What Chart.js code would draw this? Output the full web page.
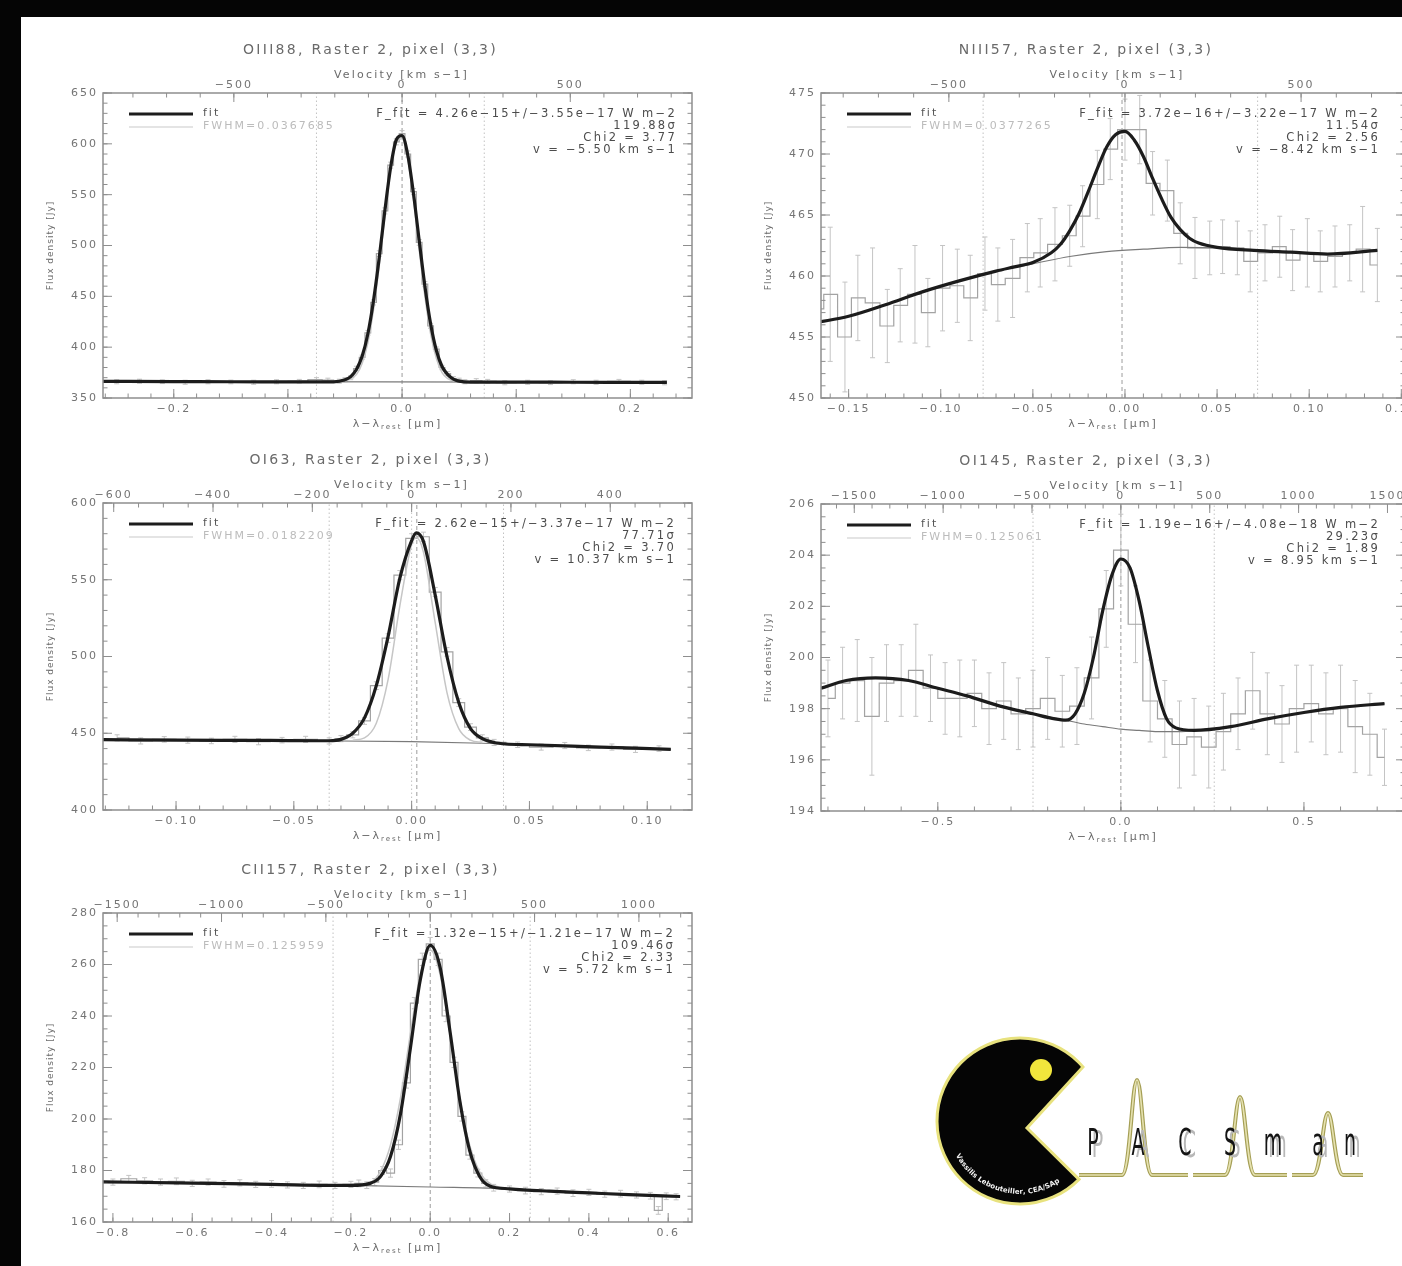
<!DOCTYPE html>
<html>
<head>
<meta charset="utf-8">
<title>PACSman line fits</title>
<script src="https://cdn.jsdelivr.net/npm/chart.js@4.4.1/dist/chart.umd.min.js"></script>
<style>
  html, body { margin: 0; width: 1402px; height: 1266px; overflow: hidden; background: #050505; }
  #sheet { position: absolute; left: 21px; top: 17px; right: 0; bottom: 0; background: #fff; }
  canvas { position: absolute; }
</style>
</head>
<body>
<div id="sheet"></div>
<canvas id="oiii88"></canvas>
<canvas id="niii57"></canvas>
<canvas id="oi63"></canvas>
<canvas id="oi145"></canvas>
<canvas id="cii157"></canvas>
<canvas id="logo" width="470" height="220" style="left:920px;top:1020px"></canvas>
<script>
const C_KMS = 299792.458;

// ---- OIII 88 ----
const oiii88Wave = [-0.25,-0.23,-0.21,-0.19,-0.17,-0.15,-0.13,-0.11,-0.09,-0.075,-0.065,-0.055,-0.05,-0.045,-0.04,-0.035,-0.03,-0.025,-0.02,-0.015,-0.01,-0.005,0,0.005,0.01,0.015,0.02,0.025,0.03,0.035,0.04,0.045,0.05,0.055,0.065,0.075,0.09,0.11,0.13,0.15,0.17,0.19,0.21,0.23];
const oiii88Flux = [366,366.5,366,365.5,366,365.8,365.5,366,366.5,368,367.5,366.5,368,370,379,390,414,444,492,534,579,602,610,590,553,503,462,421,398,380,374,369,367.5,366,367,366.5,365,365.5,365,366,365.5,366.5,365.5,365];
const oiii88Err = [2,2,1.8,2,2,1.8,2,2,1.8,2,2,2,2,2,2.2,2.2,2.5,2.5,2.8,3,3,3,3,3,3,2.8,2.5,2.5,2.2,2.2,2,2,2,2,2,1.8,2,2,1.8,2,2,1.8,2,2];
const oiii88FitWave = [-0.262,-0.2,-0.15,-0.1,-0.07,-0.06,-0.05,-0.045,-0.04,-0.035,-0.03,-0.025,-0.02,-0.015,-0.01,-0.005,0,0.005,0.01,0.015,0.02,0.025,0.03,0.035,0.04,0.045,0.05,0.06,0.1,0.15,0.2,0.232];
const oiii88Fit = [366.4,366.2,366,365.9,365.8,365.9,368,371,378,391,413,446,488,535,577,604,608,589,551,505,460,423,397,381,373,368.5,366.6,365.7,365.6,365.5,365.4,365.3];
const oiii88ContWave = [-0.262, 0.232];
const oiii88Cont = [366.4, 365.3];
const oiii88InstWave = [-0.05,-0.04,-0.035,-0.03,-0.025,-0.02,-0.015,-0.01,-0.005,0,0.005,0.01,0.015,0.02,0.025,0.03,0.035,0.04,0.05];
const oiii88Inst = [366.5,373,384,404,437,480,530,575,601,605,585,545,496,450,413,389,375,369,366];
const oiii88Dotted = [-0.075, 0.072];
const oiii88Dashed = [0];
const oiii88XTicks = [-0.2, -0.1, 0, 0.1, 0.2];
const oiii88YTicks = [350, 400, 450, 500, 550, 600, 650];
const oiii88VTicks = [-500, 0, 500];
const oiii88Stats = ['F_fit = 4.26e\u221215+/\u22123.55e\u221217 W m\u22122', '119.88\u03c3', 'Chi2 = 3.77', 'v = \u22125.50 km s\u22121'];

// ---- NIII 57 ----
const niii57Wave = [-0.167,-0.160,-0.152,-0.145,-0.137,-0.129,-0.122,-0.114,-0.107,-0.099,-0.091,-0.084,-0.076,-0.069,-0.061,-0.053,-0.046,-0.038,-0.030,-0.023,-0.015,-0.008,0.000,0.008,0.015,0.023,0.030,0.038,0.046,0.053,0.061,0.068,0.076,0.084,0.091,0.099,0.106,0.114,0.122,0.129,0.137];
const niii57Flux = [457.3,458.5,455.0,458.2,457.8,455.9,457.6,458.5,457.0,459.0,459.2,458.2,460.2,459.3,459.8,461.5,461.9,462.6,463.3,464.9,467.5,470.4,472.0,472.0,467.6,467.0,463.5,462.3,462.3,462.4,462.3,461.2,461.9,462.4,461.3,461.9,461.2,461.6,461.9,462.2,460.9];
const niii57Err = [4.5,5.5,4.5,3.5,4.5,3,3,4,2.8,3.5,3,3.5,3,3,3.2,2.8,2.8,3,2.5,2.5,2.8,2.5,2.5,2.8,2.6,2.5,2.5,2.5,2.2,2.2,2.2,2.5,2.3,2.5,2.5,2.8,2.5,2.5,2.3,3.5,3.0];
const niii57FitWave = [-0.167,-0.15,-0.13,-0.11,-0.09,-0.07,-0.06,-0.05,-0.04,-0.035,-0.03,-0.025,-0.02,-0.015,-0.01,-0.005,0,0.005,0.01,0.015,0.02,0.025,0.03,0.035,0.04,0.05,0.07,0.09,0.11,0.137];
const niii57Fit = [456.2,456.7,457.65,458.7,459.6,460.4,460.75,461.1,461.9,462.6,463.7,465.1,466.9,468.8,470.55,471.6,471.85,471.15,469.8,468.0,466.3,464.8,463.8,463.1,462.7,462.35,462.1,461.95,461.8,462.1];
const niii57ContWave = [-0.167,-0.15,-0.13,-0.11,-0.09,-0.07,-0.05,-0.03,-0.01,0.01,0.03,0.05,0.07,0.09,0.11,0.137];
const niii57Cont = [456.2,456.7,457.65,458.7,459.6,460.4,461.0,461.6,462.0,462.2,462.35,462.3,462.1,461.95,461.8,462.1];
const niii57Dotted = [-0.077, 0.072];
const niii57Dashed = [-0.0016];
const niii57XTicks = [-0.15, -0.10, -0.05, 0, 0.05, 0.10, 0.15];
const niii57YTicks = [450, 455, 460, 465, 470, 475];
const niii57VTicks = [-500, 0, 500];
const niii57Stats = ['F_fit = 3.72e\u221216+/\u22123.22e\u221217 W m\u22122', '11.54\u03c3', 'Chi2 = 2.56', 'v = \u22128.42 km s\u22121'];

// ---- OI 63 ----
const oi63Wave = [-0.125,-0.115,-0.105,-0.095,-0.085,-0.075,-0.065,-0.055,-0.045,-0.035,-0.03,-0.025,-0.02,-0.015,-0.01,-0.005,0,0.005,0.01,0.015,0.02,0.025,0.03,0.035,0.045,0.055,0.065,0.075,0.085,0.095,0.105];
const oi63Flux = [447,445,446,445.5,445,446,444.5,445.5,446,445,446.5,449,458,481,512,553,577,578,542,503,470,454,447,444,442.5,441,442,440.5,441,439.5,440];
const oi63Err = [2,2,1.8,2,1.8,2,2,1.8,2,2,2,2,2.2,2.5,2.8,3,3,3,3,2.8,2.5,2.2,2,2,1.8,2,2,1.8,2,2,1.8];
const oi63FitWave = [-0.131,-0.1,-0.06,-0.04,-0.035,-0.03,-0.025,-0.02,-0.015,-0.01,-0.005,0,0.002,0.005,0.01,0.015,0.02,0.025,0.03,0.035,0.04,0.05,0.08,0.11];
const oi63Fit = [445.8,445.5,445.3,445.1,445.1,446,450,460,481,513,551,575.5,580.5,575,540,500,470,453,446.5,444,443,442.5,441,439.5];
const oi63ContWave = [-0.131,-0.05,0,0.03,0.05,0.08,0.11];
const oi63Cont = [445.8,445.2,444.5,443.5,442.5,441,439.5];
const oi63InstWave = [-0.025,-0.02,-0.015,-0.01,-0.005,0,0.002,0.005,0.01,0.015,0.02,0.025,0.03];
const oi63Inst = [445.5,447,456.5,485,533,573,577.5,568,522,476.5,453,445.5,444];
const oi63Dotted = [-0.035, 0, 0.039];
const oi63Dashed = [0.0022];
const oi63XTicks = [-0.10, -0.05, 0, 0.05, 0.10];
const oi63YTicks = [400, 450, 500, 550, 600];
const oi63VTicks = [-600, -400, -200, 0, 200, 400];
const oi63Stats = ['F_fit = 2.62e\u221215+/\u22123.37e\u221217 W m\u22122', '77.71\u03c3', 'Chi2 = 3.70', 'v = 10.37 km s\u22121'];

// ---- OI 145 ----
const oi145Wave = [-0.80,-0.76,-0.72,-0.68,-0.64,-0.60,-0.56,-0.52,-0.48,-0.44,-0.40,-0.36,-0.32,-0.28,-0.24,-0.20,-0.16,-0.12,-0.08,-0.04,0.00,0.04,0.08,0.12,0.16,0.20,0.24,0.28,0.32,0.36,0.40,0.44,0.48,0.52,0.56,0.60,0.64,0.68,0.72];
const oi145Flux = [198.4,199.0,199.1,197.7,199.0,199.1,199.5,198.8,198.4,198.4,198.6,198.0,198.3,197.8,198.0,198.4,197.9,198.1,199.2,201.9,204.2,201.3,198.3,197.6,196.6,196.9,196.5,197.1,197.8,198.7,197.8,197.4,198.0,198.2,197.8,198.0,197.3,197.0,196.1];
const oi145Err = [1.5,1.4,1.6,2.3,1.5,1.4,1.8,1.3,1.4,1.5,1.3,1.4,1.5,1.4,1.5,1.6,1.4,1.5,1.6,1.5,1.4,1.5,1.6,1.5,1.7,1.5,1.6,1.5,1.4,1.5,1.6,1.5,1.7,1.5,1.6,1.7,1.8,1.6,1.1];
const oi145FitWave = [-0.819,-0.75,-0.67,-0.58,-0.5,-0.42,-0.33,-0.24,-0.18,-0.15,-0.125,-0.1,-0.075,-0.05,-0.025,0,0.025,0.05,0.075,0.1,0.125,0.15,0.2,0.3,0.4,0.5,0.6,0.72];
const oi145Fit = [198.8,199.1,199.2,199.1,198.8,198.5,198.1,197.8,197.6,197.55,197.8,198.6,200.0,201.8,203.2,203.85,203.5,202.2,200.4,198.7,197.6,197.25,197.15,197.3,197.6,197.85,198.05,198.2];
const oi145ContWave = [-0.819,-0.75,-0.67,-0.58,-0.5,-0.42,-0.33,-0.24,-0.15,-0.1,-0.05,0,0.05,0.1,0.15,0.2,0.3,0.4,0.5,0.6,0.72];
const oi145Cont = [198.8,199.1,199.2,199.1,198.8,198.5,198.1,197.8,197.55,197.4,197.3,197.2,197.15,197.1,197.1,197.15,197.3,197.6,197.85,198.05,198.2];
const oi145Dotted = [-0.24, 0.255];
const oi145Dashed = [0];
const oi145XTicks = [-0.5, 0, 0.5];
const oi145YTicks = [194, 196, 198, 200, 202, 204, 206];
const oi145VTicks = [-1500, -1000, -500, 0, 500, 1000, 1500];
const oi145Stats = ['F_fit = 1.19e\u221216+/\u22124.08e\u221218 W m\u22122', '29.23\u03c3', 'Chi2 = 1.89', 'v = 8.95 km s\u22121'];

// ---- CII 157 ----
const cii157Wave = [-0.8,-0.76,-0.72,-0.68,-0.64,-0.6,-0.56,-0.52,-0.48,-0.44,-0.4,-0.36,-0.32,-0.28,-0.24,-0.2,-0.18,-0.16,-0.14,-0.12,-0.1,-0.08,-0.06,-0.04,-0.02,0,0.02,0.04,0.06,0.08,0.1,0.12,0.14,0.16,0.2,0.24,0.28,0.32,0.36,0.4,0.44,0.48,0.52,0.555,0.575,0.595,0.62];
const cii157Flux = [175.5,176.8,176,175.5,175.8,175,175.5,174.8,175.2,174.6,174.8,174.4,174.2,174.6,174.2,174.6,175,174.3,175.5,180,179,190,214,245,262,268,262,240,222,201,186,179,175,173.3,172.8,172.2,171.8,172,171.2,171.5,170.8,171,170.5,170.2,164.5,170,169.8];
const cii157Err = [1.2,1.3,1.2,1.2,1.3,1.2,1.2,1.3,1.2,1.2,1.3,1.2,1.2,1.3,1.2,1.2,1.3,1.3,1.4,1.5,1.6,1.8,2,2.2,2.4,2.5,2.4,2.2,2,1.8,1.6,1.5,1.4,1.3,1.2,1.3,1.2,1.2,1.3,1.2,1.2,1.3,1.2,1.3,1.5,1.3,1.2];
const cii157FitWave = [-0.825,-0.6,-0.4,-0.2,-0.15,-0.125,-0.1,-0.075,-0.05,-0.025,0,0.025,0.05,0.075,0.1,0.125,0.15,0.2,0.3,0.4,0.5,0.63];
const cii157Fit = [175.6,175.1,174.6,174.2,175.1,177.7,185.5,202,227.5,254.1,267.4,258.8,233.9,206.7,187.4,177.6,174,172.9,172,171.3,170.6,169.9];
const cii157ContWave = [-0.825,-0.6,-0.4,-0.2,0,0.2,0.3,0.4,0.5,0.63];
const cii157Cont = [175.6,175.1,174.6,174.2,173.6,172.9,172,171.3,170.6,169.9];
const cii157InstWave = [-0.2,-0.15,-0.125,-0.1,-0.075,-0.05,-0.025,0,0.025,0.05,0.075,0.1,0.125,0.15,0.2];
const cii157Inst = [174.2,175.5,179.8,190,208.2,233.2,256.2,265.6,256,232.8,207.6,189.5,179.4,175,172.9];
const cii157Dotted = [-0.245, 0.252];
const cii157Dashed = [0];
const cii157XTicks = [-0.8, -0.6, -0.4, -0.2, 0, 0.2, 0.4, 0.6];
const cii157YTicks = [160, 180, 200, 220, 240, 260, 280];
const cii157VTicks = [-1500, -1000, -500, 0, 500, 1000];
const cii157Stats = ['F_fit = 1.32e\u221215+/\u22121.21e\u221217 W m\u22122', '109.46\u03c3', 'Chi2 = 2.33', 'v = 5.72 km s\u22121'];

// ---- styles ----
const FRAME = '#8e8e8e';
const LABEL = '#747474';
const FONT = '"DejaVu Sans", sans-serif';
const AXIS_L = 85, AXIS_T = 80, AXIS_B = 50, PAD_R = 25;

Chart.defaults.font.family = FONT;
Chart.defaults.elements.point.radius = 0;
Chart.defaults.animation = false;

const xy = (xs, ys) => xs.map((x, i) => ({ x, y: ys[i] }));
const vlines = (xs, y0, y1) => xs.flatMap(x => [{ x, y: y0 }, { x, y: y1 }, { x, y: null }]);
const errBars = (xs, ys, es) => xs.flatMap((x, i) => [{ x, y: ys[i] - es[i] }, { x, y: ys[i] + es[i] }, { x, y: null }]);

function fmt(v, dec) {
  if (Math.abs(v) < 1e-9) v = 0;
  const s = Math.abs(v).toFixed(dec);
  return v < 0 ? '\u2212' + s : s;
}

function tickMarks(ctx, scale, majors, minorStep, edge, a) {
  const draw = (v, len) => {
    const p = scale.getPixelForValue(v);
    ctx.beginPath();
    if (edge === 'bottom') { ctx.moveTo(p, a.bottom); ctx.lineTo(p, a.bottom - len); }
    else if (edge === 'top') { ctx.moveTo(p, a.top); ctx.lineTo(p, a.top + len); }
    else if (edge === 'left') { ctx.moveTo(a.left, p); ctx.lineTo(a.left + len, p); }
    else { ctx.moveTo(a.right, p); ctx.lineTo(a.right - len, p); }
    ctx.stroke();
  };
  const n0 = Math.ceil(scale.min / minorStep - 1e-6);
  const n1 = Math.floor(scale.max / minorStep + 1e-6);
  for (let n = n0; n <= n1; n++) draw(n * minorStep, 4.5);
  majors.forEach(v => draw(v, 9));
}

function text(ctx, s, x, y, size, color, align, spacing) {
  ctx.font = size + 'px ' + FONT;
  ctx.fillStyle = color;
  ctx.textAlign = align;
  ctx.textBaseline = 'middle';
  ctx.letterSpacing = spacing + 'px';
  ctx.fillText(s, x, y);
}

function decor(p) {
  return {
    id: 'decor',
    beforeDraw(chart) { chart.ctx.letterSpacing = '2px'; },
    afterDraw(chart) {
      const ctx = chart.ctx, a = chart.chartArea, s = chart.scales;
      ctx.save();
      ctx.strokeStyle = FRAME;
      ctx.lineWidth = 1;
      tickMarks(ctx, s.x, p.xTicks, p.minor[0], 'bottom', a);
      tickMarks(ctx, s.x2, p.vTicks, p.minor[2], 'top', a);
      tickMarks(ctx, s.y, p.yTicks, p.minor[1], 'left', a);
      tickMarks(ctx, s.y, p.yTicks, p.minor[1], 'right', a);
      ctx.lineWidth = 1.5;
      ctx.strokeRect(a.left, a.top, a.right - a.left, a.bottom - a.top);

      const cx = (a.left + a.right) / 2, cy = (a.top + a.bottom) / 2;
      text(ctx, p.title, cx - 27, a.top - 43, 14, '#6a6a6a', 'center', 2.3);
      text(ctx, 'Velocity [km s\u22121]', cx + 4, a.top - 18, 11, '#6a6a6a', 'center', 2.2);

      // x label with subscript
      ctx.textBaseline = 'middle';
      ctx.fillStyle = '#6a6a6a';
      ctx.letterSpacing = '2px';
      ctx.font = '11px ' + FONT;
      const w1 = ctx.measureText('\u03bb\u2212\u03bb').width, w3 = ctx.measureText(' [\u00b5m]').width;
      ctx.font = '7px ' + FONT;
      const w2 = ctx.measureText('rest').width;
      const x0 = cx - (w1 + w2 + w3) / 2;
      const yl = a.bottom + 26;
      ctx.textAlign = 'left';
      ctx.font = '11px ' + FONT; ctx.fillText('\u03bb\u2212\u03bb', x0, yl);
      ctx.font = '7px ' + FONT; ctx.fillText('rest', x0 + w1, yl + 3);
      ctx.font = '11px ' + FONT; ctx.fillText(' [\u00b5m]', x0 + w1 + w2, yl);

      ctx.save();
      ctx.translate(a.left - 52, cy);
      ctx.rotate(-Math.PI / 2);
      text(ctx, 'Flux density [Jy]', 0, 0, 9, '#6a6a6a', 'center', 1);
      ctx.restore();

      // legend
      ctx.strokeStyle = '#1c1c1c'; ctx.lineWidth = 3;
      ctx.beginPath(); ctx.moveTo(a.left + 26, a.top + 21); ctx.lineTo(a.left + 90, a.top + 21); ctx.stroke();
      ctx.strokeStyle = '#c9c9c9'; ctx.lineWidth = 1.2;
      ctx.beginPath(); ctx.moveTo(a.left + 26, a.top + 34); ctx.lineTo(a.left + 90, a.top + 34); ctx.stroke();
      text(ctx, 'fit', a.left + 100, a.top + 20, 11, '#555', 'left', 2);
      text(ctx, p.fwhm, a.left + 100, a.top + 33, 11, '#bcbcbc', 'left', 2);

      // fit results
      p.stats.forEach((line, i) => text(ctx, line, a.right - p.statsInset, a.top + 21 + 12 * i, 11.5, '#4c4c4c', 'right', 2.3));
      ctx.restore();
      ctx.letterSpacing = '0px';
    }
  };
}

function makePanel(p) {
  const cv = document.getElementById(p.id);
  const [bl, bt, br, bb] = p.box;
  cv.width = br - bl + AXIS_L + PAD_R;
  cv.height = bb - bt + AXIS_T + AXIS_B;
  cv.style.left = (bl - AXIS_L) + 'px';
  cv.style.top = (bt - AXIS_T) + 'px';
  const kms = C_KMS / p.lambda0;
  const [y0, y1] = p.yRange;

  const datasets = [
    { data: xy(p.fitWave, p.fit), borderColor: '#1c1c1c', borderWidth: 3.2, cubicInterpolationMode: 'monotone' }
  ];
  if (p.instWave) datasets.push({ data: xy(p.instWave, p.inst), borderColor: '#c6c6c6', borderWidth: 1.5, cubicInterpolationMode: 'monotone' });
  datasets.push(
    { data: xy(p.contWave, p.cont), borderColor: '#7a7a7a', borderWidth: 1.2, cubicInterpolationMode: 'monotone' },
    { data: xy(p.wave, p.flux), borderColor: '#a3a3a3', borderWidth: 1.2, stepped: 'middle' },
    { data: errBars(p.wave, p.flux, p.err), borderColor: '#c4c4c4', borderWidth: 1, pointStyle: 'line', pointRadius: 2.5, pointBorderColor: '#c4c4c4', pointBorderWidth: 1 },
    { data: vlines(p.dashed, y0, y1), borderColor: '#9c9c9c', borderWidth: 1, borderDash: [4, 3] },
    { data: vlines(p.dotted, y0, y1), borderColor: '#c2c2c2', borderWidth: 1, borderDash: [1.5, 2.5] }
  );

  const tickFont = { family: FONT, size: 11 };
  const noGrid = { display: false, drawTicks: false };
  new Chart(cv, {
    type: 'line',
    data: { datasets },
    options: {
      responsive: false,
      devicePixelRatio: 1,
      events: [],
      layout: { padding: { left: 0, top: 0, bottom: 0, right: PAD_R } },
      plugins: { legend: { display: false }, tooltip: { enabled: false } },
      scales: {
        x: {
          type: 'linear', position: 'bottom', min: p.xRange[0], max: p.xRange[1],
          grid: noGrid, border: { display: false },
          afterBuildTicks: s => { s.ticks = p.xTicks.map(value => ({ value })); },
          afterFit: s => { s.height = AXIS_B; s.paddingLeft = 0; s.paddingRight = 0; },
          ticks: { font: tickFont, color: LABEL, padding: 5, maxRotation: 0, autoSkip: false, callback: v => fmt(v, p.xDec) }
        },
        x2: {
          type: 'linear', axis: 'x', position: 'top', min: p.xRange[0] * kms, max: p.xRange[1] * kms,
          grid: noGrid, border: { display: false },
          afterBuildTicks: s => { s.ticks = p.vTicks.map(value => ({ value })); },
          afterFit: s => { s.height = AXIS_T; s.paddingLeft = 0; s.paddingRight = 0; },
          ticks: { font: tickFont, color: LABEL, padding: 1, maxRotation: 0, autoSkip: false, callback: v => fmt(v, 0) }
        },
        y: {
          type: 'linear', position: 'left', min: y0, max: y1,
          grid: noGrid, border: { display: false },
          afterBuildTicks: s => { s.ticks = p.yTicks.map(value => ({ value })); },
          afterFit: s => { s.width = AXIS_L; s.paddingTop = 0; s.paddingBottom = 0; },
          ticks: { font: tickFont, color: LABEL, padding: 5, autoSkip: false, callback: v => fmt(v, 0) }
        }
      }
    },
    plugins: [decor(p)]
  });
}

const panels = [
  { id: 'oiii88', title: 'OIII88, Raster 2, pixel (3,3)', lambda0: 88.356, box: [103, 93, 692, 398],
    xRange: [-0.262, 0.254], yRange: [350, 650], xDec: 1, minor: [0.02, 10, 100],
    xTicks: oiii88XTicks, yTicks: oiii88YTicks, vTicks: oiii88VTicks,
    wave: oiii88Wave, flux: oiii88Flux, err: oiii88Err, fitWave: oiii88FitWave, fit: oiii88Fit,
    contWave: oiii88ContWave, cont: oiii88Cont, instWave: oiii88InstWave, inst: oiii88Inst,
    dotted: oiii88Dotted, dashed: oiii88Dashed, fwhm: 'FWHM=0.0367685', stats: oiii88Stats, statsInset: 15 },
  { id: 'niii57', title: 'NIII57, Raster 2, pixel (3,3)', lambda0: 57.317, box: [821, 93, 1405, 398],
    xRange: [-0.165, 0.152], yRange: [450, 475], xDec: 2, minor: [0.01, 1, 100],
    xTicks: niii57XTicks, yTicks: niii57YTicks, vTicks: niii57VTicks,
    wave: niii57Wave, flux: niii57Flux, err: niii57Err, fitWave: niii57FitWave, fit: niii57Fit,
    contWave: niii57ContWave, cont: niii57Cont,
    dotted: niii57Dotted, dashed: niii57Dashed, fwhm: 'FWHM=0.0377265', stats: niii57Stats, statsInset: 25 },
  { id: 'oi63', title: 'OI63, Raster 2, pixel (3,3)', lambda0: 63.184, box: [103, 503, 692, 810],
    xRange: [-0.131, 0.119], yRange: [400, 600], xDec: 2, minor: [0.01, 10, 50],
    xTicks: oi63XTicks, yTicks: oi63YTicks, vTicks: oi63VTicks,
    wave: oi63Wave, flux: oi63Flux, err: oi63Err, fitWave: oi63FitWave, fit: oi63Fit,
    contWave: oi63ContWave, cont: oi63Cont, instWave: oi63InstWave, inst: oi63Inst,
    dotted: oi63Dotted, dashed: oi63Dashed, fwhm: 'FWHM=0.0182209', stats: oi63Stats, statsInset: 16 },
  { id: 'oi145', title: 'OI145, Raster 2, pixel (3,3)', lambda0: 145.525, box: [821, 504, 1405, 811],
    xRange: [-0.819, 0.776], yRange: [194, 206], xDec: 1, minor: [0.1, 0.5, 100],
    xTicks: oi145XTicks, yTicks: oi145YTicks, vTicks: oi145VTicks,
    wave: oi145Wave, flux: oi145Flux, err: oi145Err, fitWave: oi145FitWave, fit: oi145Fit,
    contWave: oi145ContWave, cont: oi145Cont,
    dotted: oi145Dotted, dashed: oi145Dashed, fwhm: 'FWHM=0.125061', stats: oi145Stats, statsInset: 25 },
  { id: 'cii157', title: 'CII157, Raster 2, pixel (3,3)', lambda0: 157.741, box: [103, 913, 692, 1222],
    xRange: [-0.825, 0.66], yRange: [160, 280], xDec: 1, minor: [0.05, 5, 100],
    xTicks: cii157XTicks, yTicks: cii157YTicks, vTicks: cii157VTicks,
    wave: cii157Wave, flux: cii157Flux, err: cii157Err, fitWave: cii157FitWave, fit: cii157Fit,
    contWave: cii157ContWave, cont: cii157Cont, instWave: cii157InstWave, inst: cii157Inst,
    dotted: cii157Dotted, dashed: cii157Dashed, fwhm: 'FWHM=0.125959', stats: cii157Stats, statsInset: 17 }
];
panels.forEach(makePanel);

// ---- PACSman logo ----
function drawLogo() {
  const ctx = document.getElementById('logo').getContext('2d');
  const cx = 100, cy = 101, r = 83;
  ctx.beginPath();
  ctx.moveTo(107, 108);
  ctx.arc(cx, cy, r, 0.78, 2 * Math.PI - 0.71);
  ctx.closePath();
  ctx.fillStyle = '#050505';
  ctx.fill();
  ctx.strokeStyle = '#e8e27e';
  ctx.lineWidth = 3;
  ctx.stroke();
  ctx.beginPath();
  ctx.arc(121, 50, 11, 0, 2 * Math.PI);
  ctx.fillStyle = '#f1e63c';
  ctx.fill();

  // author name along the lower rim
  ctx.fillStyle = '#f4f4f4';
  ctx.font = 'bold 7px ' + FONT;
  ctx.textAlign = 'center';
  ctx.textBaseline = 'middle';
  let ang = 152 * Math.PI / 180;
  const R = 71;
  for (const ch of 'Vassilis Lebouteiller, CEA/SAp') {
    const da = ctx.measureText(ch).width / R;
    ang -= da / 2;
    ctx.save();
    ctx.translate(cx + R * Math.cos(ang), cy + R * Math.sin(ang));
    ctx.rotate(ang - Math.PI / 2);
    ctx.fillText(ch, 0, 0);
    ctx.restore();
    ang -= da / 2;
  }

  // spectral-line underline
  const base = 155;
  const segs = [[159, 268, 217, 60], [273, 367, 320, 77], [372, 443, 408, 93]];
  const peakPath = () => {
    ctx.beginPath();
    segs.forEach(([s, e, pk, top]) => {
      ctx.moveTo(s, base);
      ctx.lineTo(pk - 15, base);
      ctx.bezierCurveTo(pk - 7, base, pk - 5, top, pk, top);
      ctx.bezierCurveTo(pk + 5, top, pk + 7, base, pk + 15, base);
      ctx.lineTo(e, base);
    });
  };
  peakPath(); ctx.strokeStyle = '#a59f55'; ctx.lineWidth = 4; ctx.stroke();
  peakPath(); ctx.strokeStyle = '#e6e2b0'; ctx.lineWidth = 1.6; ctx.stroke();

  const letters = [['P', 173], ['A', 218], ['C', 265], ['S', 310], ['m', 353], ['a', 398], ['n', 430]];
  ctx.font = '38px ' + FONT;
  ctx.textBaseline = 'alphabetic';
  letters.forEach(([ch, x]) => {
    ctx.save();
    ctx.translate(x, 135);
    ctx.scale(0.5, 1);
    ctx.fillStyle = '#b8b8b8';
    ctx.fillText(ch, 9, 2);
    ctx.fillStyle = '#141414';
    ctx.fillText(ch, 0, 0);
    ctx.restore();
  });
}
drawLogo();
</script>
</body>
</html>
